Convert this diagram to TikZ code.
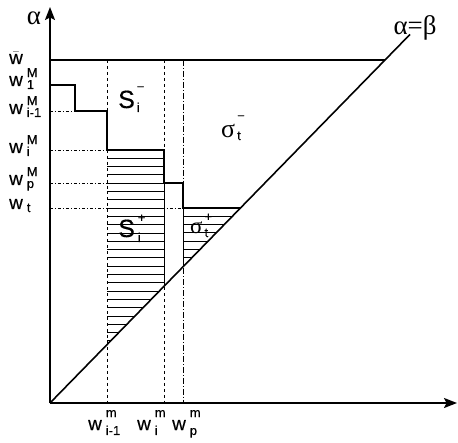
\documentclass[tikz,border=0pt]{standalone}
\usepackage{fontspec}
\setmainfont{Liberation Sans}[FakeBold=0.4]
\newfontfamily\grk{Liberation Serif}
\usetikzlibrary{arrows.meta}

% stacked super/subscript: raise of sup, drop of sub, sup, sub
\newcommand{\supsub}[4]{\begingroup\fontsize{13}{13}\selectfont
  \setbox0\hbox{\raisebox{#1}{#3}}\setbox2\hbox{\raisebox{-#2}{#4}}%
  \ifdim\wd0>\wd2 \rlap{\box2}\box0\else\rlap{\box0}\box2\fi\endgroup}
\newcommand{\wM}[2]{w\hspace{4pt}\supsub{9pt}{3pt}{#1}{#2}}
\newcommand{\wm}[2]{w\hspace{4pt}\supsub{13pt}{5pt}{#1}{#2}}

\begin{document}
\begin{tikzpicture}[x=1bp,y=-1bp,font=\fontsize{19}{19}\selectfont,
  axis/.style={line width=1.8pt,-{Stealth[length=13pt,width=10pt,inset=2.5pt]}},
  stair/.style={line width=1.8pt},
  hatch/.style={line width=0.9pt},
  vguide/.style={line width=0.7pt,dash pattern=on 3pt off 3pt},
  vdashdot/.style={line width=0.7pt,dash pattern=on 6pt off 2pt on 1pt off 2pt},
  hguide/.style={line width=0.6pt,dash pattern=on 3pt off 2pt on 1pt off 2pt},
  lab/.style={anchor=base west,inner sep=0pt},
  glab/.style={font=\fontsize{27}{27}\selectfont\grk,inner sep=0pt,anchor=base}]
  \useasboundingbox (0,0) rectangle (458,443);
  % axes and diagonal
  \coordinate (O) at (50,403);
  \coordinate (Dtop) at (410,34.4);
  \coordinate (Wbar) at (50,60);
  \coordinate (Wcut) at (385,60);
  \draw[axis] (O) -- (50,7);
  \draw[axis] (O) -- (457,403);
  \draw[line width=1.6pt] (O) -- (Dtop);
  \draw[line width=1.1pt] (Wbar) -- (Wcut);
  % hatched region S_i^+
  \begin{scope}
    \clip (107,150) -- (164,150) -- (164,286.3) -- (107,344.6) -- cycle;
    \foreach \k in {0,...,24} \draw[hatch] (107,150+8.3*\k) -- (164,150+8.3*\k);
  \end{scope}
  % hatched region sigma_t^+
  \begin{scope}
    \clip (183,208) -- (240.4,208) -- (183,266.8) -- cycle;
    \foreach \k in {0,...,7} \draw[hatch] (183,208+8.3*\k) -- (241,208+8.3*\k);
  \end{scope}
  % guide lines
  \draw[vguide] (107,60) -- (107,403);
  \draw[vguide] (164,60) -- (164,403);
  \draw[vdashdot] (183,60) -- (183,403);
  \draw[hguide] (50,111) -- (75,111);
  \draw[hguide] (50,150) -- (107,150);
  \draw[hguide] (50,183) -- (164,183);
  \draw[hguide] (50,208) -- (183,208);
  % staircase
  \draw[stair] (50,85) -- (75,85) -- (75,111) -- (107,111) -- (107,150)
    -- (164,150) -- (164,183) -- (183,183) -- (183,208) -- (240.4,208);
  \draw[line width=1pt] (164,183) -- (164,286.3);
  \draw[line width=1pt] (183,208) -- (183,266.8);
  % axis labels
  \node[glab] (alpha) at (34,25) {α};
  \node[glab] (diag) at (415,35) {α=β};
  % left labels
  \node[lab] (wbar) at (9,64) {$\bar{\mbox{w}}$};
  \node[lab] (w1) at (9,86) {\wM{M}{1}};
  \node[lab] (wim) at (9,114) {\wM{M}{i-1}};
  \node[lab] (wi) at (9,153) {\wM{M}{i}};
  \node[lab] (wp) at (9,185) {\wM{M}{p}};
  \node[lab] (wt) at (9,209) {\wM{}{t}};
  % bottom labels
  \node[lab] (vim) at (88,430) {\wm{m}{i-1}};
  \node[lab] (vi) at (137,430) {\wm{m}{i}};
  \node[lab] (vp) at (172,430) {\wm{m}{p}};
  % region labels
  \node[lab,font=\fontsize{25}{25}\selectfont] (Sm) at (118,108)
    {S\hspace{2pt}\supsub{17pt}{4pt}{−}{i}};
  \node[lab,font=\fontsize{25}{25}\selectfont] (Sp) at (118,237)
    {S\hspace{3pt}\supsub{15pt}{5pt}{+}{i}};
  \node[lab] (sigm) at (221,138)
    {{\grk\fontsize{26}{26}\selectfont σ}\hspace{2pt}\supsub{18pt}{2pt}{−}{t}};
  \node[lab] (sigp) at (190,233)
    {{\grk\fontsize{23}{23}\selectfont σ}\hspace{2pt}\supsub{12pt}{4pt}{+}{t}};
\end{tikzpicture}
\end{document}
